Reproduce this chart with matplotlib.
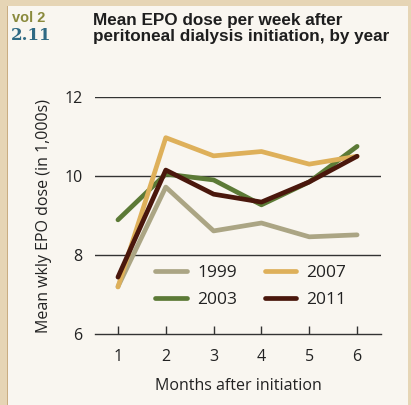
import matplotlib
matplotlib.use('Agg')
import matplotlib.pyplot as plt
from matplotlib.patches import Rectangle
from matplotlib import font_manager

# data
months = [1, 2, 3, 4, 5, 6]
epo_1999 = [7.2, 9.72, 8.61, 8.81, 8.46, 8.51]
epo_2003 = [8.89, 10.05, 9.9, 9.27, 9.85, 10.75]
epo_2007 = [7.19, 10.97, 10.51, 10.62, 10.3, 10.5]
epo_2011 = [7.44, 10.15, 9.54, 9.34, 9.85, 10.5]
yticks = [6, 8, 10, 12]

names = {f.name for f in font_manager.fontManager.ttflist}
narrow = 'Liberation Sans Narrow' if 'Liberation Sans Narrow' in names else 'Liberation Sans'
body = 'Open Sans'

fig = plt.figure(figsize=(4.11, 4.05), dpi=100)
fig.patch.set_facecolor('#e6d5b5')
# cream page panel
fig.patches.append(Rectangle((8 / 411, 0), 400 / 411, 1 - 6 / 405, transform=fig.transFigure,
                             facecolor='#f9f6f0', edgecolor='none', zorder=-2))
fig.patches.append(Rectangle((7 / 411, 0), 1.2 / 411, 1 - 6 / 405, transform=fig.transFigure,
                             facecolor='#c9ad82', edgecolor='none', zorder=-2))

ax = fig.add_axes([95 / 411, 1 - 334 / 405, 286 / 411, 237 / 405])
ax.set_facecolor('none')

lw = 3.4
ax.plot(months, epo_1999, color='#aba584', lw=lw, label='1999', solid_capstyle='round')
ax.plot(months, epo_2003, color='#5c7a36', lw=lw, label='2003', solid_capstyle='round')
ax.plot(months, epo_2007, color='#deb05a', lw=lw, label='2007', solid_capstyle='round')
ax.plot(months, epo_2011, color='#4a170c', lw=lw, label='2011', solid_capstyle='round')

ax.set_xlim(0.52, 6.5)
ax.set_ylim(6, 12)
ax.set_yticks(yticks)
ax.set_xticks(months)
for y in yticks[1:]:
    ax.axhline(y, color='#333333', lw=1.0, zorder=0.5)

for s in ['top', 'right', 'left']:
    ax.spines[s].set_visible(False)
ax.spines['bottom'].set_color('#333333')
ax.spines['bottom'].set_linewidth(1.0)
ax.tick_params(axis='x', direction='in', length=6, width=1, color='#333333', pad=11,
               labelsize=11.5, labelcolor='#222222')
ax.tick_params(axis='y', length=0, pad=9, labelsize=11.5, labelcolor='#222222')
for lab in ax.get_xticklabels() + ax.get_yticklabels():
    lab.set_fontfamily(body)

ax.set_xlabel('Months after initiation', fontsize=11.5, family=body, color='#222222', labelpad=9)
ax.set_ylabel('Mean wkly EPO dose (in 1,000s)', fontsize=11.5, family=body, color='#222222',
              labelpad=9)

leg = ax.legend(ncol=2, loc='center', bbox_to_anchor=(0.545, 0.2), frameon=False,
                handlelength=1.8, columnspacing=1.6, handletextpad=0.6, labelspacing=0.65,
                prop={'family': body, 'size': 12.5})
for t in leg.get_texts():
    t.set_color('#222222')

fig.text(93 / 411, 1 - 13 / 405, 'Mean EPO dose per week after\nperitoneal dialysis initiation, by year',
         ha='left', va='top', fontsize=12.3, fontweight='bold', family=narrow, color='#1e1e1e',
         linespacing=1.05)
fig.text(12 / 411, 1 - 11 / 405, 'vol 2', ha='left', va='top', fontsize=10.5, family=narrow,
         fontweight='bold', color='#8a8a3c')
fig.text(11 / 411, 1 - 27 / 405, '2.11', ha='left', va='top', fontsize=12, fontweight='bold',
         family='DejaVu Serif', color='#2f6a84')

fig.savefig('out.png', dpi=100, facecolor=fig.get_facecolor())
